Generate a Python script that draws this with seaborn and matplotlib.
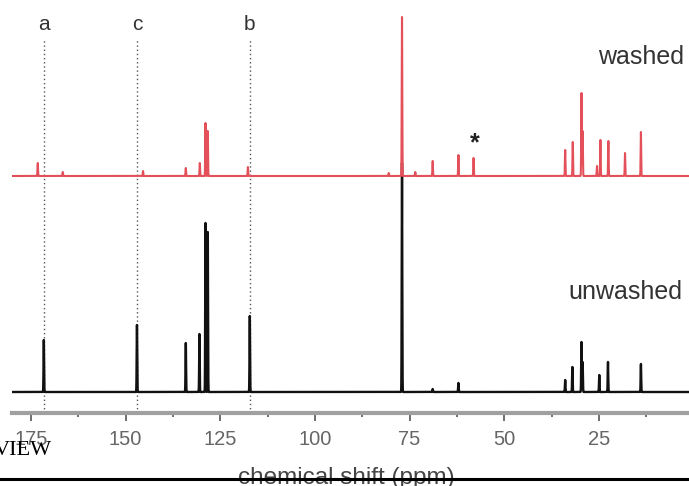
import numpy as np
import pandas as pd
import matplotlib
matplotlib.use("Agg")
import matplotlib.pyplot as plt
from matplotlib.lines import Line2D
from matplotlib.ticker import FixedLocator
import seaborn as sns

# 13C NMR peak lists (chemical shift in ppm, peak intensity in arbitrary units)
unwashed_ppm = [171.6, 147.0, 134.1, 130.5, 128.9, 128.3, 117.2, 77.0,
                68.9, 62.1, 33.9, 32.0, 29.6, 29.3, 24.9, 22.6, 13.9]
unwashed_int = [52, 67, 49, 58, 169, 160, 76, 229,
                3, 9, 12, 25, 50, 30, 17, 30, 28]

washed_ppm = [173.2, 166.6, 145.4, 134.1, 130.4, 128.9, 128.3, 117.7,
              80.5, 77.0, 73.5, 68.9, 62.1, 58.1, 33.9, 31.9, 29.6, 29.3,
              25.5, 24.6, 22.5, 18.1, 13.9]
washed_int = [13, 4, 5, 8, 13, 53, 45, 9,
              3, 159, 4, 15, 21, 18, 26, 34, 83, 45,
              10, 36, 35, 23, 44]

# vertical offset of the washed trace above the unwashed one
washed_offset = 216

# reference positions marked with dotted lines
marker_labels = ["a", "c", "b"]
marker_ppm = [171.6, 147.0, 117.2]

# asterisk marking an impurity signal in the washed sample
star_ppm = 58.1

major_ticks = [175, 150, 125, 100, 75, 50, 25]
minor_ticks = [162.5, 137.5, 112.5, 87.5, 62.5, 37.5, 12.5]

grid = np.linspace(180.0, 0.0, 36001)


def spectrum(centers, heights, sigma=0.07):
    y = np.zeros_like(grid)
    for c, h in zip(centers, heights):
        y += h * np.exp(-0.5 * ((grid - c) / sigma) ** 2)
    return y


df_unwashed = pd.DataFrame({"ppm": grid, "signal": spectrum(unwashed_ppm, unwashed_int)})
df_washed = pd.DataFrame({"ppm": grid,
                          "signal": spectrum(washed_ppm, washed_int) + washed_offset})

sns.set_style("white")
plt.rcParams["font.family"] = ["Liberation Sans", "DejaVu Sans"]

W, H = 689, 486
fig = plt.figure(figsize=(W / 100, H / 100), dpi=100)
ax = fig.add_axes([12 / W, 73 / H, 677 / W, 413 / H])

sns.lineplot(data=df_unwashed, x="ppm", y="signal", ax=ax, color="#111111",
             linewidth=1.7, estimator=None, sort=False, zorder=3)
sns.lineplot(data=df_washed, x="ppm", y="signal", ax=ax, color="#e4505a",
             linewidth=1.5, estimator=None, sort=False, zorder=4)

ax.set_xlim(180.0, 1.2)
ax.set_ylim(-21, 392)

# dotted guide lines with their labels
ax.vlines(marker_ppm, -21, 352, colors="#555555", linestyles=(0, (1, 2)),
          linewidth=1.0, zorder=2)
for lab, x in zip(marker_labels, marker_ppm):
    ax.text(x, 367, lab, ha="center", va="center", fontsize=15, color="#333333")

ax.text(star_ppm - 0.4, washed_offset + 33, "*", ha="center", va="center",
        fontsize=18, fontweight="bold", color="#222222")

ax.text(2.4, 335, "washed", ha="right", va="center", fontsize=18, color="#333333")
ax.text(3.0, 100, "unwashed", ha="right", va="center", fontsize=18, color="#333333")

# axes styling: only a grey bottom axis
for side in ["left", "top", "right"]:
    ax.spines[side].set_visible(False)
ax.spines["bottom"].set_color("#a0a0a0")
ax.spines["bottom"].set_linewidth(3)
ax.set_yticks([])
ax.xaxis.set_major_locator(FixedLocator(major_ticks))
ax.xaxis.set_minor_locator(FixedLocator(minor_ticks))
ax.set_xticklabels([str(t) for t in major_ticks])
ax.tick_params(axis="x", which="major", direction="out", length=6, width=1.2,
               color="#555555", labelsize=14.5, labelcolor="#666666", pad=6,
               bottom=True)
ax.tick_params(axis="x", which="minor", direction="out", length=3, width=1.2,
               color="#555555", bottom=True)
ax.set_ylabel("")
ax.set_xlabel("chemical shift (ppm)", fontsize=17.5, color="#444444")
ax.xaxis.set_label_coords((346 - 12) / 677, -0.131)

# page rule and running header text
fig.add_artist(Line2D([0, 1], [(H - 479.3) / H] * 2, transform=fig.transFigure,
                      color="black", linewidth=2.2, zorder=10))
fig.text(52 / W, (H - 455) / H, "VIEW", ha="right", va="baseline",
         family="Liberation Serif", fontsize=16, color="black", zorder=11)

fig.savefig("out.png", dpi=100, facecolor="white")
